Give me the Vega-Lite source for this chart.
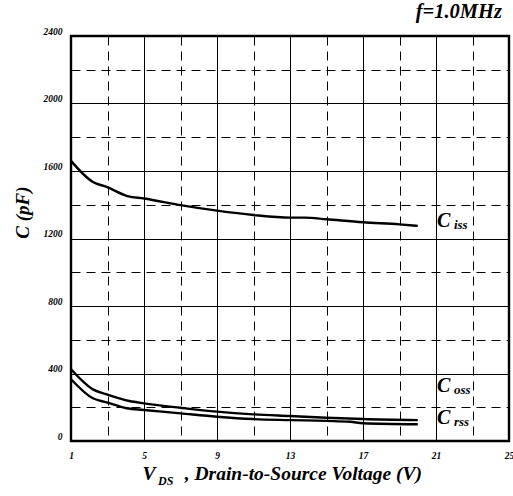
{
  "$schema": "https://vega.github.io/schema/vega-lite/v6.json",
  "width": 438,
  "height": 405,
  "autosize": {"type": "none"},
  "padding": {"left": 71, "top": 36, "right": 4, "bottom": 55},
  "background": "white",
  "title": {
    "text": "f=1.0MHz",
    "anchor": "end",
    "frame": "group",
    "fontSize": 20.5,
    "font": "Liberation Serif",
    "fontStyle": "italic",
    "fontWeight": "bold",
    "color": "black",
    "dx": -7,
    "offset": 4
  },
  "config": {
    "font": "Liberation Serif",
    "view": {"stroke": "black", "strokeWidth": 2.4},
    "axis": {
      "domain": false,
      "ticks": false,
      "grid": true,
      "gridColor": "black",
      "gridOpacity": 1,
      "gridWidth": 1,
      "labelFont": "Liberation Serif",
      "labelFontStyle": "italic",
      "labelFontWeight": "bold",
      "labelFontSize": 9.5,
      "labelColor": "black",
      "titleFont": "Liberation Serif",
      "titleFontStyle": "italic",
      "titleFontWeight": "bold",
      "titleColor": "black"
    }
  },
  "encoding": {
    "x": {
      "field": "V",
      "type": "quantitative",
      "scale": {"domain": [1, 25], "nice": false, "zero": false},
      "axis": {
        "values": [1, 3, 5, 7, 9, 11, 13, 15, 17, 19, 21, 23, 25],
        "labelExpr": "datum.value % 4 == 1 ? datum.label : ''",
        "gridDash": {"condition": {"test": "datum.value % 4 == 3", "value": [9, 6]}, "value": []},
        "labelPadding": 9,
        "labelFlush": false,
        "title": "V\u00a0\u00a0\u00a0\u00a0\u00a0\u00a0, Drain-to-Source Voltage (V)",
        "titleFontSize": 19.5,
        "titleAlign": "left",
        "titleX": 71,
        "titleY": 38,
        "titleBaseline": "alphabetic"
      }
    },
    "y": {
      "field": "C",
      "type": "quantitative",
      "scale": {"domain": [0, 2400], "nice": false},
      "axis": {
        "values": [0, 200, 400, 600, 800, 1000, 1200, 1400, 1600, 1800, 2000, 2200, 2400],
        "format": "d",
        "labelExpr": "datum.value % 400 == 0 ? datum.label : ''",
        "gridDash": {"condition": {"test": "datum.value % 400 == 200", "value": [9, 6]}, "value": []},
        "labelPadding": 9,
        "labelBaseline": "alphabetic",
        "labelOffset": -2,
        "labelFlush": false,
        "title": "C (pF)",
        "titleFontSize": 19,
        "titleAngle": 270,
        "titleAlign": "center",
        "titleBaseline": "alphabetic",
        "titleX": -43,
        "titleY": 176
      }
    }
  },
  "layer": [
    {
      "data": {
        "values": [
          {"series": "Ciss", "V": 1.0, "C": 1660},
          {"series": "Ciss", "V": 2.2, "C": 1535},
          {"series": "Ciss", "V": 2.95, "C": 1506},
          {"series": "Ciss", "V": 4.1, "C": 1451},
          {"series": "Ciss", "V": 5.0, "C": 1437},
          {"series": "Ciss", "V": 7.0, "C": 1398},
          {"series": "Ciss", "V": 9.0, "C": 1365},
          {"series": "Ciss", "V": 11.0, "C": 1339},
          {"series": "Ciss", "V": 13.0, "C": 1324},
          {"series": "Ciss", "V": 13.8, "C": 1324},
          {"series": "Ciss", "V": 15.0, "C": 1314},
          {"series": "Ciss", "V": 17.0, "C": 1296},
          {"series": "Ciss", "V": 19.0, "C": 1284},
          {"series": "Ciss", "V": 20.0, "C": 1275},
          {"series": "Coss", "V": 1.0, "C": 425},
          {"series": "Coss", "V": 2.2, "C": 306},
          {"series": "Coss", "V": 2.95, "C": 277},
          {"series": "Coss", "V": 4.2, "C": 237},
          {"series": "Coss", "V": 5.0, "C": 223},
          {"series": "Coss", "V": 7.0, "C": 197},
          {"series": "Coss", "V": 9.0, "C": 174},
          {"series": "Coss", "V": 11.0, "C": 158},
          {"series": "Coss", "V": 13.0, "C": 148},
          {"series": "Coss", "V": 15.0, "C": 138},
          {"series": "Coss", "V": 17.0, "C": 130},
          {"series": "Coss", "V": 20.0, "C": 124},
          {"series": "Crss", "V": 1.0, "C": 366},
          {"series": "Crss", "V": 2.2, "C": 253},
          {"series": "Crss", "V": 2.95, "C": 229},
          {"series": "Crss", "V": 4.05, "C": 194},
          {"series": "Crss", "V": 5.0, "C": 184},
          {"series": "Crss", "V": 7.0, "C": 164},
          {"series": "Crss", "V": 9.0, "C": 144},
          {"series": "Crss", "V": 11.0, "C": 130},
          {"series": "Crss", "V": 13.0, "C": 124},
          {"series": "Crss", "V": 15.0, "C": 119},
          {"series": "Crss", "V": 16.3, "C": 114},
          {"series": "Crss", "V": 17.0, "C": 105},
          {"series": "Crss", "V": 20.0, "C": 99}
        ]
      },
      "mark": {"type": "line", "color": "black", "strokeWidth": 2.4, "interpolate": "monotone"},
      "encoding": {"detail": {"field": "series"}}
    },
    {
      "data": {
        "values": [
          {"V": 21.05, "C": 1270, "main": "C", "sub": "iss"},
          {"V": 21.05, "C": 290, "main": "C", "sub": "oss"},
          {"V": 21.05, "C": 103, "main": "C", "sub": "rss"}
        ]
      },
      "layer": [
        {
          "mark": {"type": "text", "align": "left", "baseline": "alphabetic", "fontSize": 20, "fontStyle": "italic", "fontWeight": "bold", "font": "Liberation Serif", "color": "black"},
          "encoding": {"text": {"field": "main"}}
        },
        {
          "mark": {"type": "text", "align": "left", "baseline": "alphabetic", "fontSize": 13, "fontStyle": "italic", "fontWeight": "bold", "font": "Liberation Serif", "color": "black", "dx": 17, "dy": 2},
          "encoding": {"text": {"field": "sub"}}
        }
      ]
    },
    {
      "data": {"values": [{"V": 5.77, "C": -261, "sub": "DS"}]},
      "mark": {"type": "text", "align": "left", "baseline": "alphabetic", "fontSize": 12, "fontStyle": "italic", "fontWeight": "bold", "font": "Liberation Serif", "color": "black"},
      "encoding": {"text": {"field": "sub"}}
    }
  ]
}
